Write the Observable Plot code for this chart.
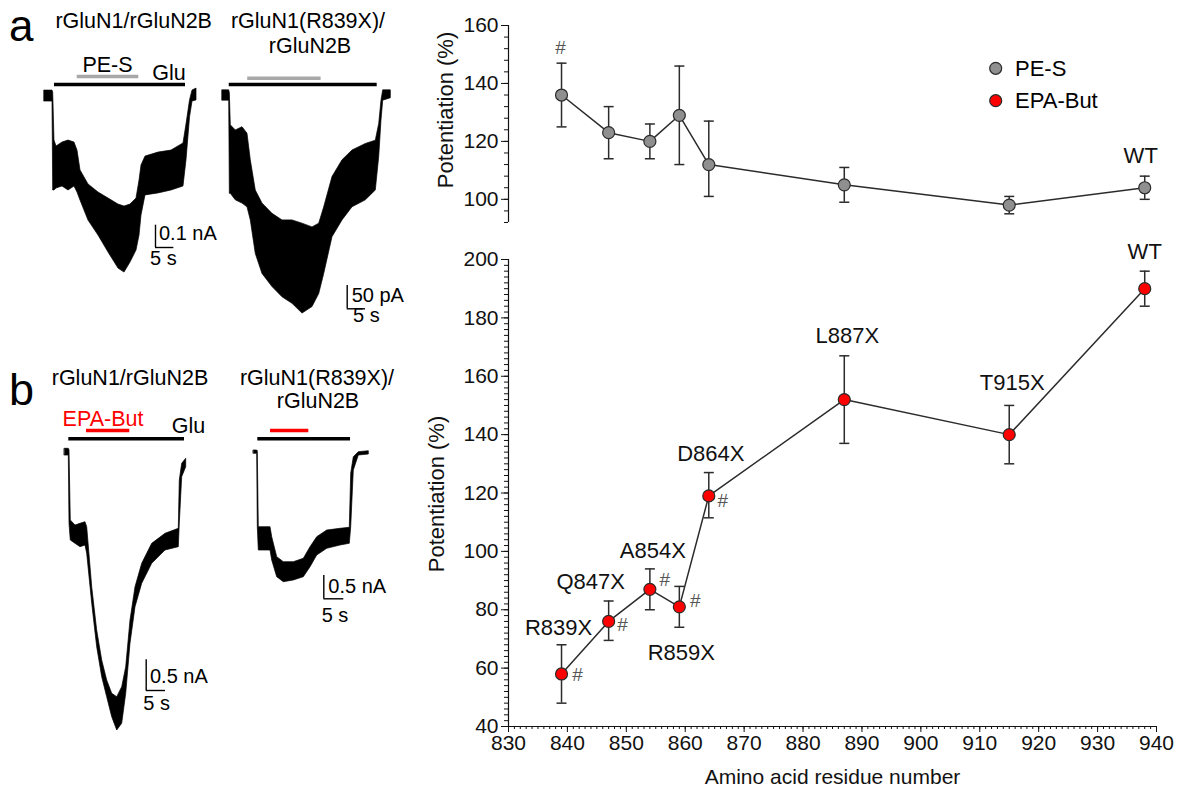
<!DOCTYPE html>
<html><head><meta charset="utf-8">
<script src="https://cdn.jsdelivr.net/npm/d3@7"></script>
<script src="https://cdn.jsdelivr.net/npm/@observablehq/plot@0.6"></script>
<style>
body{margin:0;background:#fff;}
#fig{position:relative;width:1184px;height:790px;overflow:hidden;background:#fff;}
</style></head><body><div id="fig"></div>
<script>
// ---------------- DATA ----------------
const residues = [839, 847, 854, 859, 864, 887, 915, 938];
const residueLabels = ["R839X", "Q847X", "A854X", "R859X", "D864X", "L887X", "T915X", "WT"];
const pesMean = [136, 123, 120, 129, 112, 105, 98, 104];
const pesLow  = [125, 114, 114, 112, 101, 99, 95, 100];
const pesHigh = [147, 132, 126, 146, 127, 111, 101, 108];
const pesSignificant = [true, false, false, false, false, false, false, false];
const epaMean = [58, 76, 87, 81, 119, 152, 140, 190];
const epaLow  = [48, 69.5, 80, 74, 111.5, 137, 130, 184];
const epaHigh = [68, 83, 94, 88, 127, 167, 150, 196];
const epaSignificant = [true, true, true, true, true, false, false, false];
const xTicks = [830, 840, 850, 860, 870, 880, 890, 900, 910, 920, 930, 940];
const yTicksEpa = [40, 60, 80, 100, 120, 140, 160, 180, 200];
const yTicksPes = [100, 120, 140, 160];

// current traces: envelope (upper / lower) of the noisy recordings
// a1: rGluN1/rGluN2B + PE-S (time s, current nA)
const traceA1Time  = [0, 2.18, 2.37, 2.72, 3.27, 4.90, 6.54, 8.17, 8.99, 9.81, 11.99, 14.71, 17.44, 20.16, 21.80, 23.43, 25.07, 25.89, 26.43, 27.52, 31.06, 34.60, 37.87, 38.69, 39.65, 40.33, 41.42];
const traceA1Upper = [0.022, 0.022, 0.013, -0.202, -0.229, -0.211, -0.202, -0.211, -0.247, -0.336, -0.399, -0.435, -0.462, -0.489, -0.498, -0.489, -0.462, -0.381, -0.314, -0.274, -0.256, -0.247, -0.215, -0.130, -0.022, 0.022, 0.031];
const traceA1Lower = [-0.027, -0.027, -0.426, -0.426, -0.417, -0.408, -0.426, -0.408, -0.435, -0.471, -0.561, -0.628, -0.704, -0.776, -0.794, -0.749, -0.695, -0.628, -0.538, -0.448, -0.439, -0.426, -0.408, -0.291, -0.099, -0.027, -0.022];
// a2: rGluN1(R839X)/rGluN2B + PE-S (time s, current pA)
const traceA2Time  = [0, 1.83, 2.0, 2.26, 3.62, 5.45, 6.81, 7.71, 9.07, 10.9, 13.62, 16.35, 19.07, 21.8, 24.52, 26.35, 27.71, 29.97, 32.7, 35.42, 39.05, 41.77, 42.7, 43.32, 43.79, 45.86];
const traceA2Upper = [11, 11, 5, -64, -75, -68, -82, -139, -204, -232, -254, -268, -268, -275, -283, -275, -240, -175, -139, -118, -104, -97, -61, -11, 11, 11];
const traceA2Lower = [-11, -11, -211, -211, -225, -232, -240, -268, -340, -383, -411, -433, -447, -468, -454, -426, -383, -304, -268, -240, -225, -204, -132, -54, -11, -6];
// b1: rGluN1/rGluN2B + EPA-But (time s, current nA)
const traceB1Time  = [0, 1.04, 1.22, 1.55, 2.77, 4.07, 5.36, 5.80, 7.10, 8.39, 9.69, 10.98, 12.28, 13.58, 14.87, 15.91, 17.02, 18.32, 20.05, 22.64, 26.09, 29.53, 29.79, 30.41, 31.45];
const traceB1Upper = [0.055, 0.055, 0.03, -1.112, -1.194, -1.166, -1.140, -1.221, -2.199, -2.904, -3.393, -3.718, -3.935, -3.990, -3.827, -3.502, -2.741, -2.199, -1.818, -1.492, -1.329, -1.248, -0.461, -0.189, -0.107];
const traceB1Lower = [-0.054, -0.054, -1.166, -1.438, -1.492, -1.547, -1.520, -1.655, -2.469, -3.176, -3.664, -3.990, -4.316, -4.533, -4.423, -3.935, -3.121, -2.524, -2.143, -1.818, -1.601, -1.547, -1.166, -0.407, -0.244];
// b2: rGluN1(R839X)/rGluN2B + EPA-But (time s, current nA)
const traceB2Time  = [0, 0.85, 1.0, 1.25, 4.18, 4.6, 5.85, 7.5, 10, 12.5, 14.18, 15.85, 18.35, 21.68, 24, 24.35, 25, 26.25, 28.75];
const traceB2Upper = [0.036, 0.036, 0.02, -1.606, -1.606, -1.820, -2.248, -2.355, -2.355, -2.283, -2.034, -1.820, -1.677, -1.640, -1.619, -0.463, -0.107, 0, 0.021];
const traceB2Lower = [-0.034, -0.034, -1.606, -2.105, -2.105, -2.319, -2.677, -2.784, -2.747, -2.677, -2.463, -2.212, -2.069, -1.998, -1.961, -1.606, -0.392, -0.071, -0.049];
// drug application windows (s)
const gluA1 = [2.72, 38.42], pesA1 = [8.91, 25.69];
const gluA2 = [1.83, 42.15], pesA2 = [6.87, 26.87];
const gluB1 = [1.04, 31.01], epaB1 = [5.62, 16.84];
const gluB2 = [1.0, 24.18],  epaB2 = [4.18, 13.75];
// scale bars: [time s, current]
const scaleA1 = [5, 0.1], scaleA2 = [5, 50], scaleB1 = [5, 0.5], scaleB2 = [5, 0.5];

// ---------------- STYLE / LAYOUT ----------------
const FONT = '"Liberation Sans", Arial, Helvetica, sans-serif';
const RED = "#ff0000", GREY = "#8f8f8f", INK = "#2b2b2b", BARGREY = "#a8a8a8";
const fig = document.getElementById("fig");
function place(node, left, top) {
  node.style.position = "absolute"; node.style.left = left + "px"; node.style.top = top + "px";
  fig.appendChild(node);
}

function tracePlot(cfg) {
  const {box, x0, y0, kx, ky, time, upper, lower, bars, sb} = cfg;
  const data = time.map((t, i) => ({t, hi: upper[i], lo: lower[i]}));
  const xd = [(box.left - x0) / kx, (box.left + box.width - x0) / kx];
  const yd = [(y0 - (box.top + box.height)) / ky, (y0 - box.top) / ky];
  const sbx = (sb.xpx - x0) / kx, sby = (y0 - sb.ypx) / ky;
  const marks = [
    Plot.areaY(data, {x: "t", y1: "lo", y2: "hi", fill: "#000", stroke: "#000", strokeWidth: 0.7})
  ];
  for (const b of bars) {
    marks.push(Plot.ruleY([{y: (y0 - b.ypx) / ky, a: b.range[0], e: b.range[1]}],
      {y: "y", x1: "a", x2: "e", stroke: b.color, strokeWidth: 3.4}));
  }
  marks.push(Plot.ruleX([{x: sbx, a: sby, e: sby + sb.len[1]}], {x: "x", y1: "a", y2: "e", stroke: "#000", strokeWidth: 1.4}));
  marks.push(Plot.ruleY([{y: sby, a: sbx, e: sbx + sb.len[0]}], {y: "y", x1: "a", x2: "e", stroke: "#000", strokeWidth: 1.4}));
  const p = Plot.plot({
    width: box.width, height: box.height, margin: 0,
    x: {domain: xd, axis: null}, y: {domain: yd, axis: null},
    style: {background: "transparent", overflow: "visible"},
    marks
  });
  place(p, box.left, box.top);
}

tracePlot({box: {left: 38, top: 70, width: 160, height: 215}, x0: 44, y0: 95, kx: 3.67, ky: 223,
  time: traceA1Time, upper: traceA1Upper, lower: traceA1Lower,
  bars: [{range: gluA1, ypx: 84, color: "#000"}, {range: pesA1, ypx: 76, color: BARGREY}],
  sb: {xpx: 155, ypx: 247, len: scaleA1}});
tracePlot({box: {left: 215, top: 70, width: 180, height: 265}, x0: 222, y0: 95, kx: 3.67, ky: 0.466,
  time: traceA2Time, upper: traceA2Upper, lower: traceA2Lower,
  bars: [{range: gluA2, ypx: 84, color: "#000"}, {range: pesA2, ypx: 77.7, color: BARGREY}],
  sb: {xpx: 346.7, ypx: 308.3, len: scaleA2}});
tracePlot({box: {left: 58, top: 425, width: 140, height: 320}, x0: 64.3, y0: 451.7, kx: 3.86, ky: 61.4,
  time: traceB1Time, upper: traceB1Upper, lower: traceB1Lower,
  bars: [{range: gluB1, ypx: 438.3, color: "#000"}, {range: epaB1, ypx: 430, color: RED}],
  sb: {xpx: 145.7, ypx: 690, len: scaleB1}});
tracePlot({box: {left: 245, top: 425, width: 135, height: 180}, x0: 253.3, y0: 451.7, kx: 4.0, ky: 46.7,
  time: traceB2Time, upper: traceB2Upper, lower: traceB2Lower,
  bars: [{range: gluB2, ypx: 438.3, color: "#000"}, {range: epaB2, ypx: 430, color: RED}],
  sb: {xpx: 323.3, ypx: 598.3, len: scaleB2}});

// error-bar cap symbol (horizontal line, half width = r)
const capSymbol = {draw(ctx, size) { const h = Math.sqrt(size / Math.PI); ctx.moveTo(-h, 0); ctx.lineTo(h, 0); }};

function seriesMarks(rows, fill, labelIdx, labelOffsets, hashOffsets, sig) {
  const m = [
    Plot.line(rows, {x: "r", y: "m", stroke: INK, strokeWidth: 1.5}),
    Plot.ruleX(rows, {x: "r", y1: "lo", y2: "hi", stroke: INK, strokeWidth: 1.5}),
    Plot.dot(rows, {x: "r", y: "hi", symbol: capSymbol, r: 5, stroke: INK, strokeWidth: 1.5, fill: "none"}),
    Plot.dot(rows, {x: "r", y: "lo", symbol: capSymbol, r: 5, stroke: INK, strokeWidth: 1.5, fill: "none"}),
    Plot.dot(rows, {x: "r", y: "m", r: 6, fill, stroke: INK, strokeWidth: 1.2})
  ];
  labelIdx.forEach((i, k) => {
    m.push(Plot.text([rows[i]], {x: "r", y: "m", text: "label", dx: labelOffsets[k][0], dy: labelOffsets[k][1],
      fontSize: 22, fill: "#111"}));
  });
  let h = 0;
  rows.forEach((d, i) => {
    if (sig[i]) {
      m.push(Plot.text([d], {x: "r", y: "m", text: () => "#", dx: hashOffsets[h][0], dy: hashOffsets[h][1], fontSize: 19, fill: "#555"}));
      h++;
    }
  });
  return m;
}

const epaRows = residues.map((r, i) => ({r, m: epaMean[i], lo: epaLow[i], hi: epaHigh[i], label: residueLabels[i]}));
const pesRows = residues.map((r, i) => ({r, m: pesMean[i], lo: pesLow[i], hi: pesHigh[i], label: residueLabels[i]}));

const bottomPlot = Plot.plot({
  width: 766, height: 555, marginLeft: 90, marginRight: 28, marginTop: 24, marginBottom: 64,
  x: {domain: [830, 940]}, y: {domain: [40, 200]},
  style: {fontFamily: FONT, fontSize: "21px", color: "#111", background: "transparent", overflow: "visible"},
  marks: [
    Plot.axisY({ticks: d3.range(40, 201, 2), tickSize: 4, text: null, label: null}),
    Plot.axisY({ticks: yTicksEpa, tickSize: 7, tickPadding: 3, label: null}),
    Plot.axisX({ticks: d3.range(830, 941, 1), tickSize: 3, text: null, label: null}),
    Plot.axisX({ticks: xTicks, tickSize: 6, tickPadding: 3, label: "Amino acid residue number", labelAnchor: "center", labelOffset: 57, labelArrow: "none"}),
    Plot.ruleX([830], {stroke: "#111", strokeWidth: 1.2}),
    Plot.ruleY([40], {stroke: "#111", strokeWidth: 1.2}),
    ...seriesMarks(epaRows, RED, [0, 1, 2, 3, 4, 5, 6, 7],
      [[-3, -46], [-18, -39], [3, -38], [2, 46], [2, -42], [3, -64], [3, -52], [0, -37]],
      [[16, 1], [14, 3], [15, -9], [16, -6], [14, 5]], epaSignificant)
  ]
});
place(bottomPlot, 418, 235);

const topPlot = Plot.plot({
  width: 766, height: 235, marginLeft: 90, marginRight: 28, marginTop: 25, marginBottom: 13,
  x: {domain: [830, 940], axis: null}, y: {domain: [92, 160]},
  style: {fontFamily: FONT, fontSize: "21px", color: "#111", background: "transparent", overflow: "visible"},
  marks: [
    Plot.axisY({ticks: d3.range(92, 161, 4), tickSize: 4, text: null, label: null}),
    Plot.axisY({ticks: yTicksPes, tickSize: 7, tickPadding: 3, label: null}),
    Plot.ruleX([830], {stroke: "#111", strokeWidth: 1.2}),
    ...seriesMarks(pesRows, GREY, [7], [[-4, -32]], [[-1, -47]], pesSignificant)
  ]
});
place(topPlot, 418, 0);

// ---------------- ANNOTATIONS ----------------
const svg = d3.create("svg").attr("width", 1184).attr("height", 790)
  .style("font-family", FONT).style("pointer-events", "none");
function txt(s, x, y, anchor, size, color) {
  return svg.append("text").attr("x", x).attr("y", y).attr("text-anchor", anchor)
    .attr("font-size", size).attr("fill", color || "#000").text(s);
}
txt("a", 9, 41, "start", 44);
txt("b", 9, 405, "start", 45);
txt("rGluN1/rGluN2B", 133.7, 27.5, "middle", 21.5);
txt("rGluN1(R839X)/", 308, 27.5, "middle", 21.5);
txt("rGluN2B", 310, 53, "middle", 21.5);
txt("PE-S", 107.5, 71.5, "middle", 21.5);
txt("Glu", 169, 80, "middle", 21.5);
txt("0.1 nA", 159, 239.5, "start", 20);
txt("5 s", 150, 265, "start", 20);
txt("50 pA", 351.7, 301.5, "start", 20);
txt("5 s", 353, 321.7, "start", 20);
txt("rGluN1/rGluN2B", 130, 385, "middle", 21.5);
txt("rGluN1(R839X)/", 317, 385, "middle", 21.5);
txt("rGluN2B", 318, 408, "middle", 21.5);
txt("EPA-But", 103, 426, "middle", 21.5, RED);
txt("Glu", 188.5, 433, "middle", 21.5);
txt("0.5 nA", 150, 683, "start", 20);
txt("5 s", 143.3, 710, "start", 20);
txt("0.5 nA", 328.3, 593, "start", 20);
txt("5 s", 321.7, 621.5, "start", 20);
// y-axis titles
txt("Potentiation (%)", 0, 0, "middle", 22, "#111").attr("transform", "translate(452.5,110) rotate(-90)");
txt("Potentiation (%)", 0, 0, "middle", 22, "#111").attr("transform", "translate(444,494) rotate(-90)");
// legend
const legend = [{name: "PE-S", fill: GREY}, {name: "EPA-But", fill: RED}];
legend.forEach((d, i) => {
  const cy = 68.3 + i * 32.4;
  svg.append("circle").attr("cx", 995.7).attr("cy", cy).attr("r", 6).attr("fill", d.fill).attr("stroke", INK).attr("stroke-width", 1.2);
  txt(d.name, 1015, cy + 7.5, "start", 22);
});
place(svg.node(), 0, 0);
</script></body></html>
